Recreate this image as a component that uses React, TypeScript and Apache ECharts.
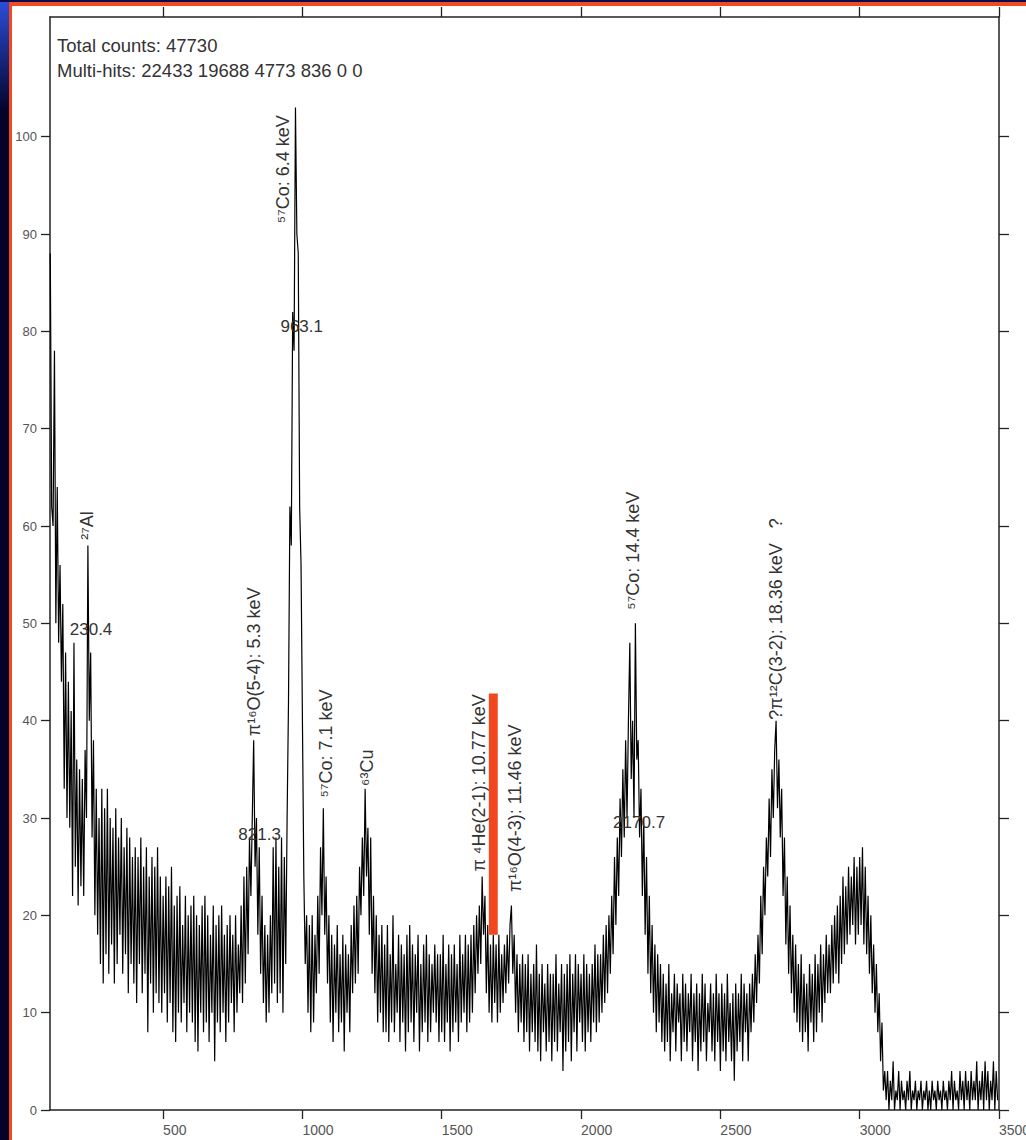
import React, { useEffect, useRef } from "react";
import * as echarts from "echarts";

const FONT = '"Liberation Sans", Arial, Helvetica, sans-serif';

// Spectrum: channel of first value and channel step
const startChannel = 95;
const channelStep = 5;

// Counts (every 5 channels, 95 .. 3495)
const counts = [
  88, 62, 60, 78, 50, 64, 48, 56, 44, 52, 33, 47, 30, 44, 29, 41, 22, 48, 25, 36,
  21, 35, 23, 34, 22, 37, 30, 58, 40, 47, 28, 38, 20, 33, 18, 30, 15, 33, 13, 31,
  16, 33, 14, 30, 17, 29, 13, 31, 15, 28, 18, 30, 14, 27, 16, 29, 12, 28, 15, 26,
  13, 27, 11, 26, 15, 28, 12, 25, 14, 27, 8, 24, 13, 26, 10, 25, 12, 27, 11, 24,
  10, 22, 12, 24, 9, 23, 11, 25, 8, 21, 7, 22, 10, 23, 9, 19, 11, 22, 8, 20,
  10, 21, 9, 22, 7, 20, 6, 19, 10, 21, 8, 22, 9, 20, 7, 18, 10, 21, 5, 19,
  9, 20, 8, 21, 10, 18, 7, 19, 9, 20, 11, 18, 8, 20, 10, 17, 12, 21, 11, 24,
  13, 25, 16, 28, 22, 30, 38, 25, 30, 18, 27, 14, 22, 11, 19, 9, 18, 10, 20, 12,
  27, 13, 28, 11, 25, 12, 28, 10, 26, 15, 30, 42, 62, 58, 82, 78, 103, 90, 88, 62,
  56, 40, 24, 15, 20, 10, 19, 8, 20, 9, 18, 12, 22, 14, 27, 20, 31, 18, 24, 13,
  20, 9, 18, 7, 17, 10, 19, 8, 16, 9, 18, 6, 17, 10, 16, 8, 19, 12, 21, 13,
  22, 14, 25, 20, 28, 22, 33, 24, 29, 18, 28, 14, 22, 12, 20, 9, 18, 10, 19, 8,
  17, 8, 19, 7, 16, 9, 20, 8, 15, 10, 18, 7, 17, 9, 16, 6, 18, 8, 19, 9,
  17, 7, 16, 10, 18, 6, 15, 8, 17, 9, 18, 7, 16, 8, 15, 10, 17, 9, 16, 7,
  16, 8, 18, 7, 15, 9, 17, 6, 16, 8, 17, 9, 15, 7, 18, 9, 16, 10, 18, 8,
  17, 9, 18, 10, 19, 12, 20, 14, 21, 15, 24, 18, 22, 12, 19, 10, 17, 9, 18, 11,
  17, 9, 18, 10, 16, 11, 17, 12, 18, 13, 19, 21, 14, 18, 10, 16, 8, 15, 9, 16,
  7, 15, 8, 16, 6, 14, 8, 15, 7, 17, 6, 14, 5, 15, 8, 13, 6, 15, 7, 14,
  5, 14, 7, 16, 6, 13, 8, 15, 4, 14, 6, 15, 7, 16, 5, 14, 8, 16, 6, 15,
  9, 14, 7, 16, 6, 15, 8, 14, 7, 15, 9, 17, 8, 16, 9, 16, 10, 18, 11, 19,
  12, 20, 14, 22, 16, 26, 19, 28, 22, 32, 26, 35, 28, 38, 30, 40, 48, 34, 40, 30,
  50, 36, 38, 28, 33, 22, 30, 18, 26, 14, 22, 12, 19, 10, 17, 8, 16, 9, 15, 7,
  14, 6, 13, 7, 15, 5, 12, 8, 14, 6, 13, 9, 12, 5, 14, 7, 13, 6, 12, 8,
  14, 5, 12, 7, 13, 4, 12, 6, 14, 7, 13, 5, 11, 8, 13, 6, 12, 5, 14, 7,
  12, 4, 13, 6, 12, 5, 14, 7, 11, 5, 12, 3, 13, 6, 12, 7, 14, 5, 13, 8,
  12, 5, 13, 8, 14, 9, 16, 11, 18, 13, 22, 16, 25, 20, 28, 24, 32, 26, 35, 30,
  37, 40, 31, 36, 28, 33, 22, 28, 17, 24, 14, 21, 12, 18, 10, 17, 9, 15, 8, 16,
  7, 14, 8, 13, 6, 15, 9, 14, 7, 16, 8, 15, 10, 17, 9, 16, 11, 18, 12, 17,
  12, 19, 13, 20, 14, 21, 13, 22, 15, 24, 16, 23, 17, 25, 18, 24, 19, 26, 17, 25,
  18, 26, 19, 27, 17, 25, 16, 22, 14, 20, 12, 17, 10, 15, 8, 12, 5, 9, 2, 4,
  1, 4, 0, 3, 1, 5, 0, 2, 1, 4, 0, 3, 1, 2, 0, 3, 1, 4, 0, 2,
  1, 3, 0, 2, 1, 3, 0, 2, 1, 3, 0, 2, 0, 3, 1, 2, 0, 3, 1, 2,
  0, 3, 1, 2, 0, 3, 1, 4, 0, 3, 1, 2, 0, 4, 1, 3, 0, 4, 1, 3,
  0, 4, 1, 3, 1, 5, 0, 3, 1, 4, 0, 5, 1, 4, 0, 3, 1, 5, 0, 4,
  1,
];

// Axes
const xMin = 94;
const xMax = 3500;
const yMin = 0;
const yMax = 112.3;
const xTicks = [500, 1000, 1500, 2000, 2500, 3000, 3500];
const yTicks = [0, 10, 20, 30, 40, 50, 60, 70, 80, 90, 100];

// Header text
const headerLines = [
  "Total counts: 47730",
  "Multi-hits: 22433 19688 4773 836 0 0",
];

// Vertical peak identifications (anchor = start of text, in data coords)
const peakLabelTexts = [
  "²⁷Al",
  "⁵⁷Co: 6.4 keV",
  "π¹⁶O(5-4): 5.3 keV",
  "⁵⁷Co: 7.1 keV",
  "⁶³Cu",
  "π ⁴He(2-1): 10.77 keV",
  "π¹⁶O(4-3): 11.46 keV",
  "⁵⁷Co: 14.4 keV",
  "?π¹²C(3-2): 18.36 keV   ?",
];
const peakLabelChannels = [227, 932, 827, 1083, 1230, 1633, 1763, 2187, 2701];
const peakLabelValues = [58.6, 91.1, 38.4, 32.1, 33.3, 24.5, 22.4, 51.4, 40.1];

// Fitted centroid labels (horizontal)
const centroidTexts = ["230.4", "963.1", "821.3", "2170.7"];
const centroidChannels = [165, 921, 770, 2115];
const centroidValues = [49.4, 80.5, 28.3, 29.5];

// Red marker bar (channels / counts)
const markerChannels = [1669, 1701];
const markerValues = [18, 42.8];

export default function App() {
  const ref = useRef<HTMLDivElement>(null);

  useEffect(() => {
    document.body.style.margin = "0";
    const chart = echarts.init(ref.current as HTMLDivElement, null, { renderer: "svg" });
    const data = counts.map((v, i) => [startChannel + i * channelStep, v]);

    const axisLine = { show: true, onZero: false, lineStyle: { color: "#222", width: 1.5 } };
    const tickStyle = { color: "#222", width: 1.3 };

    chart.setOption({
      animation: false,
      backgroundColor: "#ffffff",
      grid: {
        left: 50,
        top: 17,
        width: 949,
        height: 1093,
        containLabel: false,
        outerBoundsMode: "none",
      },
      xAxis: [
        {
          type: "value",
          position: "bottom",
          min: xMin,
          max: xMax,
          axisLine,
          axisTick: { show: true, inside: false, length: 9, customValues: xTicks, lineStyle: tickStyle },
          axisLabel: {
            show: true,
            customValues: xTicks,
            formatter: (v: number) => String(v),
            align: "left",
            margin: 13,
            fontSize: 14,
            color: "#555",
            fontFamily: FONT,
            showMinLabel: true,
            showMaxLabel: true,
          },
          splitLine: { show: false },
        },
        {
          type: "value",
          position: "top",
          min: xMin,
          max: xMax,
          axisLine,
          axisTick: { show: true, inside: false, length: 10, customValues: xTicks, lineStyle: tickStyle },
          axisLabel: { show: false },
          splitLine: { show: false },
        },
      ],
      yAxis: [
        {
          type: "value",
          position: "left",
          min: yMin,
          max: yMax,
          axisLine,
          axisTick: { show: true, inside: false, length: 9, customValues: yTicks, lineStyle: tickStyle },
          axisLabel: {
            show: true,
            customValues: yTicks,
            formatter: (v: number) => String(v),
            margin: 13,
            fontSize: 13,
            color: "#555",
            fontFamily: FONT,
            showMinLabel: true,
            showMaxLabel: true,
          },
          splitLine: { show: false },
        },
        {
          type: "value",
          position: "right",
          min: yMin,
          max: yMax,
          axisLine,
          axisTick: { show: true, inside: false, length: 10, customValues: yTicks, lineStyle: tickStyle },
          axisLabel: { show: false },
          splitLine: { show: false },
        },
      ],
      series: [
        {
          type: "line",
          xAxisIndex: 0,
          yAxisIndex: 0,
          data,
          symbol: "none",
          showSymbol: false,
          silent: true,
          lineStyle: { color: "#000", width: 1.2 },
        },
      ],
    });

    const toPx = (c: number, v: number) =>
      chart.convertToPixel({ xAxisIndex: 0, yAxisIndex: 0 }, [c, v]) as number[];

    const graphics: any[] = [];

    // slide decorations
    graphics.push({
      type: "rect",
      id: "navy-left",
      shape: { x: 0, y: 0, width: 9, height: 1140 },
      style: { fill: "#03032c" },
      silent: true,
    });
    graphics.push({
      type: "rect",
      id: "blue-left",
      shape: { x: 0, y: 0, width: 9, height: 110 },
      style: {
        fill: new echarts.graphic.LinearGradient(0, 0, 0, 1, [
          { offset: 0, color: "#2c4fd8" },
          { offset: 1, color: "#03032c" },
        ]),
      },
      silent: true,
    });
    graphics.push({
      type: "rect",
      id: "navy-top",
      shape: { x: 0, y: 0, width: 1026, height: 2 },
      style: { fill: "#0a0a50" },
      silent: true,
    });
    graphics.push({
      type: "rect",
      id: "red-top",
      shape: { x: 9, y: 2, width: 1017, height: 4 },
      style: { fill: "#f24a20" },
      silent: true,
    });
    graphics.push({
      type: "rect",
      id: "red-left",
      shape: { x: 9, y: 2, width: 3, height: 1138 },
      style: { fill: "#f24a20" },
      silent: true,
    });

    // header
    headerLines.forEach((t, i) => {
      graphics.push({
        type: "text",
        id: "header" + i,
        x: 57,
        y: 45 + i * 25,
        style: {
          text: t,
          font: "18.5px " + FONT,
          fill: "#333",
          textAlign: "left",
          textVerticalAlign: "middle",
          align: "left",
          verticalAlign: "middle",
        },
        silent: true,
      });
    });

    // vertical peak labels
    peakLabelTexts.forEach((t, i) => {
      const p = toPx(peakLabelChannels[i], peakLabelValues[i]);
      graphics.push({
        type: "text",
        id: "peak" + i,
        x: p[0],
        y: p[1],
        rotation: Math.PI / 2,
        style: {
          text: t,
          font: "18px " + FONT,
          fill: "#333",
          textAlign: "left",
          textVerticalAlign: "middle",
          align: "left",
          verticalAlign: "middle",
        },
        z: 20,
        silent: true,
      });
    });

    // centroid labels
    centroidTexts.forEach((t, i) => {
      const p = toPx(centroidChannels[i], centroidValues[i]);
      graphics.push({
        type: "text",
        id: "centroid" + i,
        x: p[0],
        y: p[1],
        style: {
          text: t,
          font: "17px " + FONT,
          fill: "#333",
          textAlign: "left",
          textVerticalAlign: "middle",
          align: "left",
          verticalAlign: "middle",
        },
        z: 20,
        silent: true,
      });
    });

    // red marker bar
    const a = toPx(markerChannels[0], markerValues[1]);
    const b = toPx(markerChannels[1], markerValues[0]);
    graphics.push({
      type: "rect",
      id: "marker",
      shape: { x: a[0], y: a[1], width: b[0] - a[0], height: b[1] - a[1] },
      style: { fill: "#f2461f" },
      z: 30,
      silent: true,
    });

    chart.setOption({ graphic: graphics });

    return () => {
      chart.dispose();
    };
  }, []);

  return <div ref={ref} style={{ width: 1026, height: 1140 }} />;
}
